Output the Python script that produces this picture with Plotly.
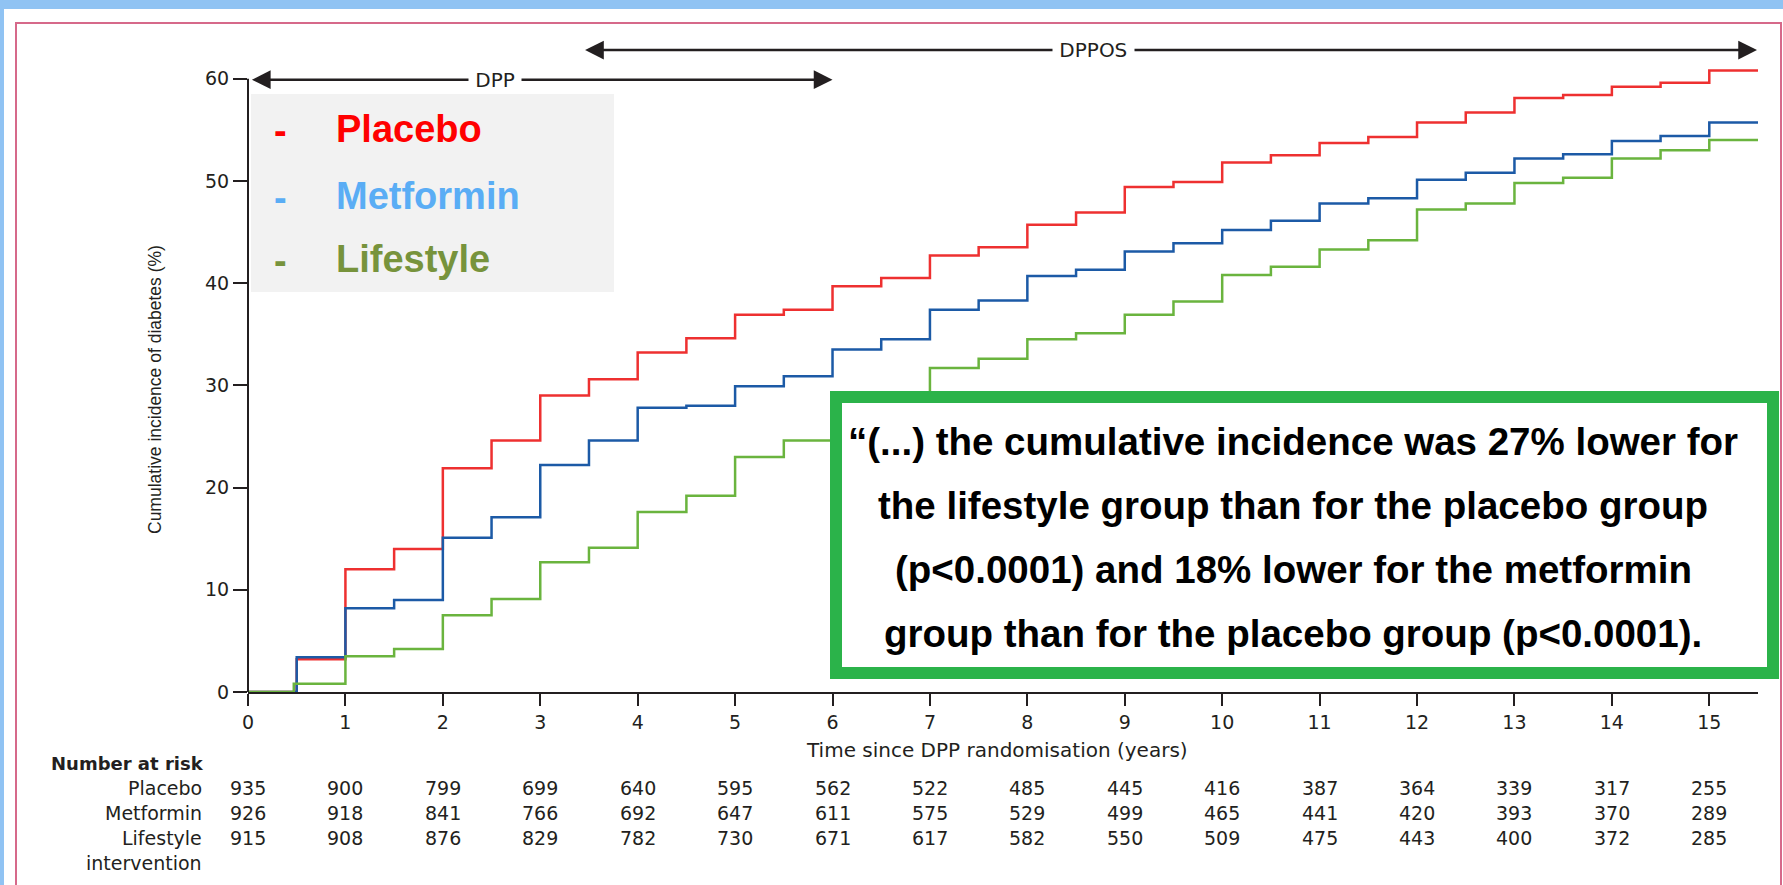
import plotly.graph_objects as go

# ---------------- data ----------------
years = [0, 0.5, 1, 1.5, 2, 2.5, 3, 3.5, 4, 4.5, 5, 5.5, 6, 6.5, 7, 7.5,
         8, 8.5, 9, 9.5, 10, 10.5, 11, 11.5, 12, 12.5, 13, 13.5, 14, 14.5, 15, 15.5]
lifestyle_years = [0, 0.47, 1, 1.5, 2, 2.5, 3, 3.5, 4, 4.5, 5, 5.5, 6, 6.5, 7, 7.5,
                   8, 8.5, 9, 9.5, 10, 10.5, 11, 11.5, 12, 12.5, 13, 13.5, 14, 14.5, 15, 15.5]

placebo = [0, 3.2, 12.0, 14.0, 21.9, 24.6, 29.0, 30.6, 33.2, 34.6, 36.9, 37.4, 39.7, 40.5,
           42.7, 43.5, 45.7, 46.9, 49.4, 49.9, 51.8, 52.5, 53.7, 54.3, 55.7, 56.7, 58.1,
           58.4, 59.2, 59.6, 60.8, 60.8]
metformin = [0, 3.4, 8.2, 9.0, 15.1, 17.1, 22.2, 24.6, 27.8, 28.0, 29.9, 30.9, 33.5, 34.5,
             37.4, 38.3, 40.7, 41.3, 43.1, 43.9, 45.2, 46.1, 47.8, 48.3, 50.1, 50.8, 52.2,
             52.6, 53.9, 54.4, 55.7, 55.7]
lifestyle = [0, 0.8, 3.5, 4.2, 7.5, 9.1, 12.7, 14.1, 17.6, 19.2, 23.0, 24.6, 28.4, 28.6,
             31.7, 32.6, 34.5, 35.1, 36.9, 38.2, 40.8, 41.6, 43.3, 44.2, 47.2, 47.8, 49.8,
             50.3, 52.2, 53.0, 54.0, 54.0]

risk_years = [0, 1, 2, 3, 4, 5, 6, 7, 8, 9, 10, 11, 12, 13, 14, 15]
placebo_risk = [935, 900, 799, 699, 640, 595, 562, 522, 485, 445, 416, 387, 364, 339, 317, 255]
metformin_risk = [926, 918, 841, 766, 692, 647, 611, 575, 529, 499, 465, 441, 420, 393, 370, 289]
lifestyle_risk = [915, 908, 876, 829, 782, 730, 671, 617, 582, 550, 509, 475, 443, 400, 372, 285]

y_ticks = [0, 10, 20, 30, 40, 50, 60]
legend_labels = ["Placebo", "Metformin", "Lifestyle"]
risk_labels = ["Placebo", "Metformin", "Lifestyle", "intervention"]
quote_lines = [
    "\u201c(...) the cumulative incidence was 27% lower for",
    "the lifestyle group than for the placebo group",
    "(p<0.0001) and 18% lower for the metformin",
    "group than for the placebo group (p<0.0001).",
]

# ---------------- style ----------------
W, H = 1783, 885
L, R, T, B = 248, 25, 48, 193
PW, PH = W - L - R, H - T - B
INK = "#231F20"
AX_FONT = "DejaVu Sans"
BIG_FONT = "Liberation Sans"
C_PLACEBO, C_METFORMIN, C_LIFESTYLE = "#EE3030", "#1C5AA6", "#6AB43E"
LEG_COLORS = ["#FF0000", "#5AADF5", "#77933C"]


def px(xp):
    return (xp - L) / PW


def py(yp):
    return (H - B - yp) / PH


def note(**kw):
    d = dict(showarrow=False, xanchor="center", yanchor="middle")
    d.update(kw)
    return d


fig = go.Figure()
for t, vals, col, name in [(years, placebo, C_PLACEBO, "Placebo"),
                           (years, metformin, C_METFORMIN, "Metformin"),
                           (lifestyle_years, lifestyle, C_LIFESTYLE, "Lifestyle")]:
    fig.add_trace(go.Scatter(x=t, y=vals, mode="lines", name=name,
                             line=dict(color=col, width=2.5, shape="hv"),
                             hoverinfo="skip", showlegend=False))

fig.update_layout(
    width=W, height=H, margin=dict(l=L, r=R, t=T, b=B, pad=0),
    paper_bgcolor="white", plot_bgcolor="white", showlegend=False,
)
fig.update_xaxes(range=[0, 15.5], tickvals=risk_years, ticks="outside", ticklen=12,
                 tickwidth=2, tickcolor=INK, showline=True, linewidth=2, linecolor=INK,
                 showgrid=False, zeroline=False,
                 tickfont=dict(family=AX_FONT, size=19, color=INK))
fig.update_yaxes(range=[0, 63], tickvals=y_ticks, ticks="outside", ticklen=14,
                 tickwidth=2, tickcolor=INK, showline=False, showgrid=False,
                 zeroline=False, tickfont=dict(family=AX_FONT, size=19, color=INK))

shapes = []
# page decorations
shapes.append(dict(type="rect", xref="paper", yref="paper", x0=px(0), x1=px(W),
                   y0=py(9), y1=py(0), fillcolor="#90C3F3", line=dict(width=0), layer="above"))
shapes.append(dict(type="rect", xref="paper", yref="paper", x0=px(0), x1=px(4),
                   y0=py(H), y1=py(0), fillcolor="#90C3F3", line=dict(width=0), layer="above"))
shapes.append(dict(type="rect", xref="paper", yref="paper", x0=px(16), x1=px(1781),
                   y0=py(H + 20), y1=py(23), fillcolor="rgba(0,0,0,0)",
                   line=dict(color="#D6698A", width=2), layer="above"))
# y axis line (0 -> 60 only)
shapes.append(dict(type="line", xref="paper", yref="paper", x0=0, x1=0,
                   y0=0, y1=60 / 63, line=dict(color=INK, width=2), layer="above"))
# legend box
shapes.append(dict(type="rect", xref="paper", yref="paper", x0=px(251), x1=px(614),
                   y0=py(292), y1=py(94), fillcolor="#F2F2F2", line=dict(width=0), layer="above"))
# quote box
shapes.append(dict(type="rect", xref="paper", yref="paper", x0=px(836), x1=px(1773),
                   y0=py(673), y1=py(397), fillcolor="white",
                   line=dict(color="#2BB34A", width=12), layer="above"))
fig.update_layout(shapes=shapes)

ann = []
# period arrows
for (x_tail, x_tip, yv) in [(2.54, 0.04, 59.9), (2.54, 6.0, 59.9),
                            (8.68, 3.46, 62.8), (8.68, 15.49, 62.8)]:
    ann.append(dict(x=x_tip, y=yv, ax=x_tail, ay=yv, xref="x", yref="y", axref="x", ayref="y",
                    text="", showarrow=True, arrowhead=2, arrowsize=1.5, arrowwidth=2.5,
                    arrowcolor=INK, standoff=0, startstandoff=0))
for label, xv, yv in [("DPP", 2.54, 59.9), ("DPPOS", 8.68, 62.8)]:
    ann.append(note(x=xv, y=yv, xref="x", yref="y", text="&nbsp;%s&nbsp;" % label,
                    bgcolor="white", borderpad=0,
                    font=dict(family=AX_FONT, size=20, color=INK)))

# axis titles
ann.append(note(x=px(997), y=py(750), xref="paper", yref="paper",
                text="Time since DPP randomisation (years)",
                font=dict(family=AX_FONT, size=20, color=INK)))
ann.append(note(x=px(155), y=py(390), xref="paper", yref="paper",
                text="Cumulative incidence of diabetes (%)", textangle=-90,
                font=dict(family=BIG_FONT, size=17.5, color=INK)))

# custom legend
leg_y = [129, 196, 259]
for lab, col, yp in zip(legend_labels, LEG_COLORS, leg_y):
    ann.append(note(x=px(280), y=py(yp + 2), xref="paper", yref="paper",
                    text="<b>-</b>", font=dict(family=BIG_FONT, size=38, color=col)))
    ann.append(note(x=px(334), y=py(yp), xref="paper", yref="paper",
                    xanchor="left", text="<b>%s</b>" % lab,
                    font=dict(family=BIG_FONT, size=38, color=col)))

# number at risk table
ann.append(note(x=px(49), y=py(763), xref="paper", yref="paper",
                xanchor="left", text="<b>Number at risk</b>",
                font=dict(family=AX_FONT, size=18, color=INK)))
row_y = [788, 813, 838, 863]
for lab, yp in zip(risk_labels, row_y):
    ann.append(note(x=px(204), y=py(yp), xref="paper", yref="paper",
                    xanchor="right", text=lab,
                    font=dict(family=AX_FONT, size=19, color=INK)))
for series, yp in zip([placebo_risk, metformin_risk, lifestyle_risk], row_y[:3]):
    for xv, n in zip(risk_years, series):
        ann.append(note(x=xv, y=py(yp), xref="x", yref="paper",
                        text=str(n), font=dict(family=AX_FONT, size=19, color=INK)))

# quote
quote_y = [438, 502, 566, 630]
for line, yp in zip(quote_lines, quote_y):
    ann.append(note(x=px(1293), y=py(yp + 3), xref="paper", yref="paper",
                    text="<b>%s</b>" % line,
                    font=dict(family=BIG_FONT, size=38.5, color="black")))

fig.update_layout(annotations=ann)
fig.write_html("out.html")
